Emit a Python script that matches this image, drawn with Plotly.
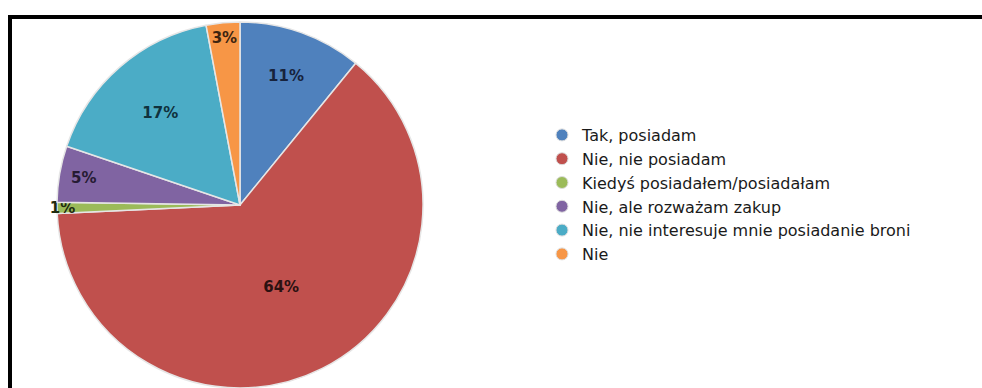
import plotly.graph_objects as go

labels = ["Tak, posiadam", "Nie, nie posiadam", "Kiedyś posiadałem/posiadałam",
          "Nie, ale rozważam zakup", "Nie, nie interesuje mnie posiadanie broni", "Nie"]
values = [11, 64, 1, 5, 17, 3]
colors = ["#4F81BD", "#C0504D", "#9BBB59", "#8064A2", "#4BACC6", "#F79646"]
text_colors = ["#17233d", "#2b1111", "#1f2b10", "#261b33", "#10323d", "#3d2410"]

W, H = 982, 388


def px(x):
    return x / W


def py(y):
    return 1 - y / H


fig = go.Figure()

fig.add_trace(go.Pie(
    labels=labels, values=values, sort=False, direction="clockwise", rotation=0,
    marker=dict(colors=colors, line=dict(color="#e6e6e6", width=1.5)),
    texttemplate="%{value}%", textposition="inside", insidetextorientation="horizontal",
    textfont=dict(family="DejaVu Sans", size=15, color=text_colors, weight="bold"),
    showlegend=False, hoverinfo="label+percent",
    domain=dict(x=[px(57), px(423)], y=[py(388), py(22)]),
))

for lab, col in zip(labels, colors):
    fig.add_trace(go.Scatter(
        x=[None], y=[None], mode="markers", name=lab,
        marker=dict(symbol="circle", size=12, color=col, line=dict(color="#dddddd", width=1)),
    ))

fig.add_shape(type="rect", xref="paper", yref="paper",
              x0=px(10), x1=1.05, y0=-0.05, y1=py(17),
              line=dict(color="black", width=4), fillcolor="rgba(0,0,0,0)")

fig.update_layout(
    width=W, height=H, margin=dict(l=0, r=0, t=0, b=0),
    paper_bgcolor="white", plot_bgcolor="white",
    uniformtext=dict(mode="show", minsize=15),
    xaxis=dict(visible=False), yaxis=dict(visible=False),
    legend=dict(x=px(542), y=py(118), xanchor="left", yanchor="top",
                font=dict(family="DejaVu Sans", size=16, color="#1a1a1a"),
                bgcolor="rgba(0,0,0,0)", tracegroupgap=0, itemsizing="trace"),
)

fig.write_html("out.html", config={"displayModeBar": False},
               post_script="document.body.style.margin='0';document.body.style.overflow='hidden';")
